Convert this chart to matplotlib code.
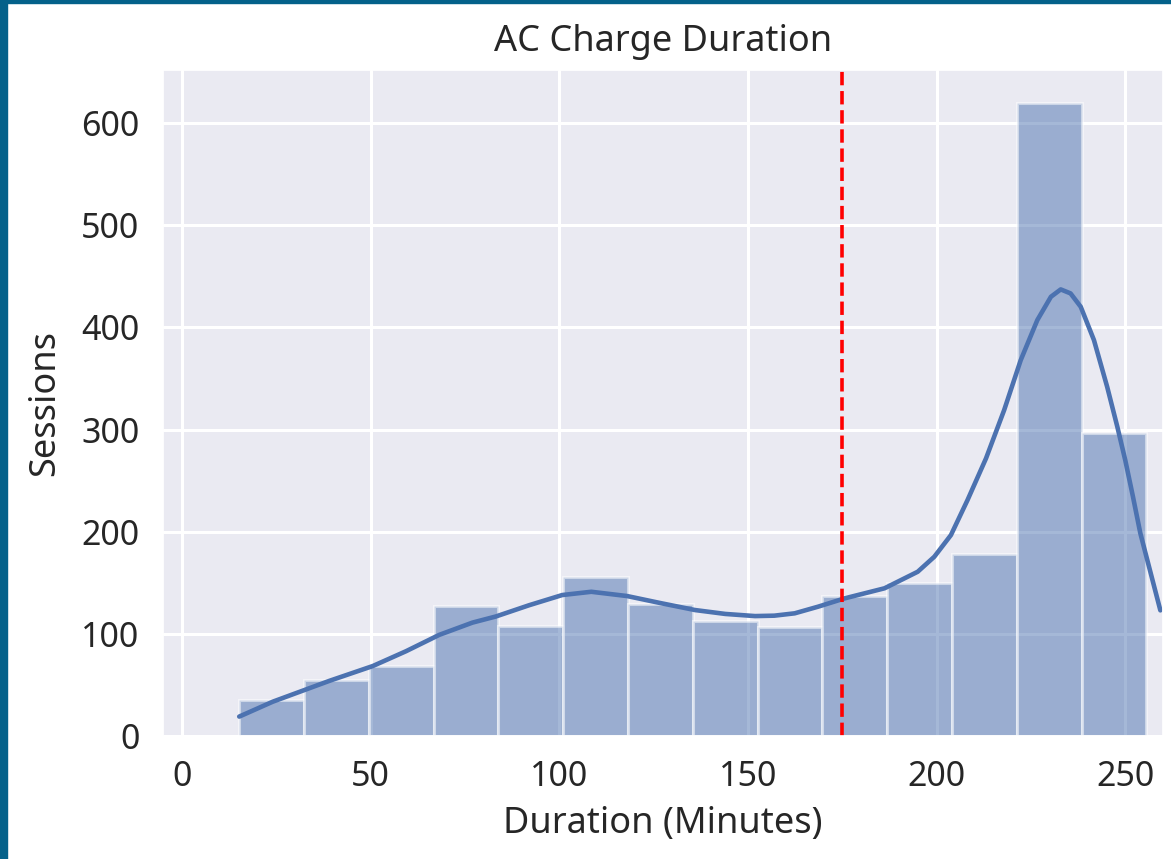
import matplotlib.pyplot as plt
import seaborn as sns
from matplotlib.patches import Rectangle

# Histogram of AC session durations (14 equal bins)
bin_start = 15.2
bin_width = 17.17
counts = [35, 55, 69, 127, 108, 156, 129, 113, 107, 137, 150, 178, 620, 297]

# Density curve, scaled to session counts
kde_x = [15.2, 24.1, 39.1, 50.6, 59.4, 68.2, 77.0, 83.2, 92.0, 100.8, 108.5,
         118.0, 127.0, 136.0, 144.0, 151.9, 157.0, 162.4, 168.6, 175.7, 186.2,
         195.0, 199.4, 203.8, 208.2, 213.1, 217.9, 222.3, 226.7, 230.3, 232.9,
         235.5, 238.2, 241.7, 245.2, 247.9, 250.0, 252.0, 254.0, 256.7, 259.3]
kde_y = [19, 33.6, 54, 68.5, 83, 99, 111, 117, 128, 138, 141.2,
         137, 130, 123.3, 119.5, 117.4, 117.8, 120.1, 126.6, 134.8, 144.6,
         160.8, 175.5, 196.7, 231, 271.8, 319, 368, 407.2, 430, 437.2,
         433.3, 420.2, 387.6, 341.9, 302.7, 270, 235, 198.4, 160, 123]

threshold = 175

sns.set_theme(style='darkgrid')
plt.rcParams['font.family'] = ['Noto Sans', 'DejaVu Sans']

fig = plt.figure(figsize=(11.71, 8.59), dpi=100)
ax = fig.add_axes([163 / 1171, 1 - 736 / 859, 1000 / 1171, 666 / 859])

edges = [bin_start + i * bin_width for i in range(len(counts))]
ax.bar(edges, counts, width=bin_width, align='edge', color='#4c72b0',
       alpha=0.5, edgecolor='white', linewidth=2.2)
ax.plot(kde_x, kde_y, color='#4c72b0', linewidth=3.3, solid_joinstyle='round')
ax.axvline(threshold, color='red', linestyle='--', linewidth=2.6,
           dashes=(3.7, 1.6))

ax.set_xlim(-5, 260)
ax.set_ylim(0, 652)
ax.set_xticks(range(0, 251, 50))
ax.set_yticks(range(0, 601, 100))
ax.grid(color='white', linewidth=2.2)
ax.tick_params(labelsize=24.5, colors='#262626', pad=11)

ax.set_title('AC Charge Duration', fontsize=26, color='#262626', pad=14)
ax.set_xlabel('Duration (Minutes)', fontsize=26, color='#262626', labelpad=9)
ax.set_ylabel('Sessions', fontsize=26, color='#262626', labelpad=13)

# frame around the figure
fig.patches.append(Rectangle((0, 0), 7 / 1171, 1, transform=fig.transFigure,
                             color='#04618a', zorder=10))
fig.patches.append(Rectangle((0, 1 - 3 / 859), 1, 3 / 859,
                             transform=fig.transFigure, color='#04618a', zorder=10))

fig.savefig('out.png', dpi=100)
